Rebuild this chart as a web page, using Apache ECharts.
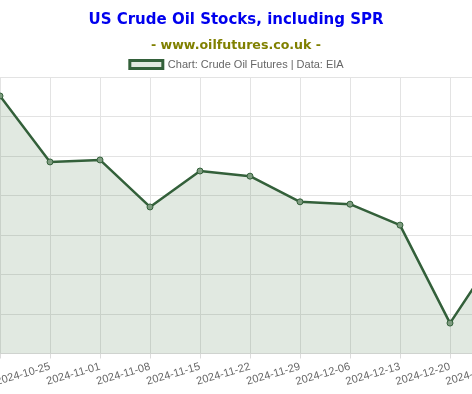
<!DOCTYPE html>
<html>
<head>
<meta charset="utf-8">
<script src="https://cdn.jsdelivr.net/npm/echarts@6/dist/echarts.min.js"></script>
<style>
html,body{margin:0;padding:0;background:#fff;}
#c{width:472px;height:394px;}
</style>
</head>
<body>
<div id="c"></div>
<script>
var categories = ['2024-10-18','2024-10-25','2024-11-01','2024-11-08','2024-11-15','2024-11-22','2024-11-29','2024-12-06','2024-12-13','2024-12-20','2024-12-27'];
var stocks = [816.52, 814.85, 814.90, 813.71, 814.62, 814.49, 813.84, 813.78, 813.25, 810.77, 812.67];
var seriesName = 'Chart: Crude Oil Futures | Data: EIA';
var titleText = 'US Crude Oil Stocks, including SPR';
var subtitleText = '- www.oilfutures.co.uk -';

var chart = echarts.init(document.getElementById('c'), null, {renderer:'canvas'});
var lineColor = '#33603a';
var fillColor = '#e1e8e0';
chart.setOption({
  animation:false,
  title:[
    {text:titleText, left:'center', top:8, textStyle:{color:'#0000ee', fontSize:15, fontWeight:'bold', fontFamily:'DejaVu Sans'}},
    {text:subtitleText, left:'center', top:34, textStyle:{color:'#808000', fontSize:12.6, fontWeight:'bold', fontFamily:'DejaVu Sans'}}
  ],
  legend:{
    top:54, left:'center', itemWidth:33, itemHeight:8, itemGap:5,
    textStyle:{color:'#666', fontSize:11, fontFamily:'Liberation Sans'},
    data:[{name:seriesName, icon:'rect', itemStyle:{color:fillColor, borderColor:lineColor, borderWidth:3}}]
  },
  grid:{left:0, top:77, width:500, height:276.5, containLabel:false, outerBoundsMode:'none'},
  xAxis:{
    type:'category', data:categories, boundaryGap:false,
    axisLine:{show:true, lineStyle:{color:'#dcdcdc'}},
    axisTick:{show:true, length:5, lineStyle:{color:'#dcdcdc'}},
    splitLine:{show:true, lineStyle:{color:'#e3e3e3'}},
    axisLabel:{rotate:16, color:'#666', fontSize:11, fontFamily:'Liberation Sans', margin:13, interval:0}
  },
  yAxis:{
    type:'value', min:810, max:817, interval:1,
    axisLine:{show:false}, axisTick:{show:false}, axisLabel:{show:false},
    splitLine:{show:true, lineStyle:{color:'#e3e3e3'}}
  },
  series:[{
    name:seriesName, type:'line', data:stocks,
    symbol:'circle', symbolSize:6, showAllSymbol:true,
    lineStyle:{color:lineColor, width:2.5},
    itemStyle:{color:'#7e9c80', borderColor:lineColor, borderWidth:1},
    areaStyle:{color:'rgb(40,100,40)', opacity:0.14},
    z:1
  }]
});
</script>
</body>
</html>
